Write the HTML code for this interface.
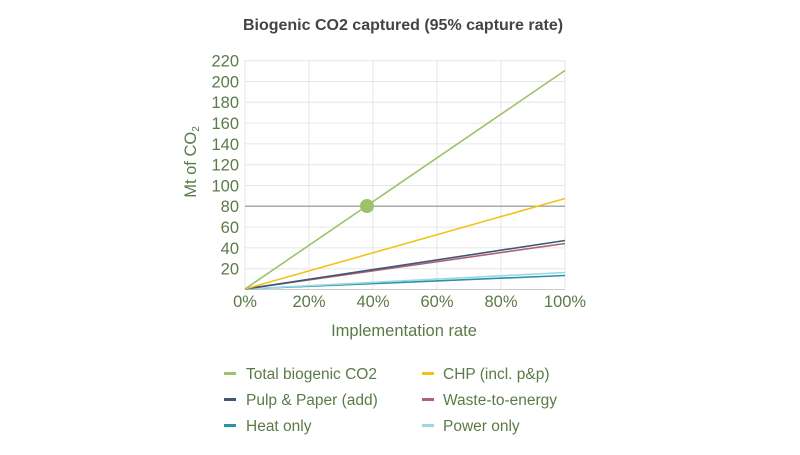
<!DOCTYPE html>
<html><head><style>
body{margin:0;background:#fff;width:800px;height:450px;overflow:hidden;font-family:"Liberation Sans",sans-serif;}
</style></head><body>
<svg width="800" height="450" xmlns="http://www.w3.org/2000/svg" font-family="Liberation Sans, sans-serif">
<text x="403" y="30" text-anchor="middle" font-size="16" font-weight="bold" fill="#444">Biogenic CO2 captured (95% capture rate)</text>
<g stroke="#e6e6e6" stroke-width="1">
<line x1="245" y1="60.7" x2="565" y2="60.7"/><line x1="245" y1="81.5" x2="565" y2="81.5"/><line x1="245" y1="102.3" x2="565" y2="102.3"/><line x1="245" y1="123.1" x2="565" y2="123.1"/><line x1="245" y1="143.9" x2="565" y2="143.9"/><line x1="245" y1="164.7" x2="565" y2="164.7"/><line x1="245" y1="185.5" x2="565" y2="185.5"/><line x1="245" y1="227.1" x2="565" y2="227.1"/><line x1="245" y1="247.9" x2="565" y2="247.9"/><line x1="245" y1="268.7" x2="565" y2="268.7"/>
<line x1="245" y1="60" x2="245" y2="289"/><line x1="309" y1="60" x2="309" y2="289"/><line x1="373" y1="60" x2="373" y2="289"/><line x1="437" y1="60" x2="437" y2="289"/><line x1="501" y1="60" x2="501" y2="289"/><line x1="565" y1="60" x2="565" y2="289"/>
</g>
<line x1="245" y1="289.5" x2="565" y2="289.5" stroke="#ccc"/>
<line x1="245" y1="206.3" x2="565" y2="206.3" stroke="#aaa" stroke-width="1.5"/>
<g stroke-width="1.6" fill="none">
<line x1="245" y1="289" x2="565" y2="275.5" stroke="#2a93a8"/>
<line x1="245" y1="289" x2="565" y2="272.5" stroke="#9ad8e4"/>
<line x1="245" y1="289" x2="565" y2="243.5" stroke="#b06078"/>
<line x1="245" y1="289" x2="565" y2="240.5" stroke="#3e5878"/>
<line x1="245" y1="289" x2="565" y2="198.5" stroke="#f2c21b"/>
<line x1="245" y1="289" x2="565" y2="70.5" stroke="#9cc26a"/>
</g>
<circle cx="367" cy="206" r="7" fill="#9cc26a"/>
<g font-size="16.5" fill="#5c7a48" text-anchor="end">
<text x="239" y="66.5">220</text><text x="239" y="87.5">200</text><text x="239" y="108">180</text><text x="239" y="129">160</text><text x="239" y="150">140</text><text x="239" y="170.5">120</text><text x="239" y="191.5">100</text><text x="239" y="212">80</text><text x="239" y="233">60</text><text x="239" y="254">40</text><text x="239" y="274.5">20</text>
</g>
<g font-size="16.5" fill="#5c7a48" text-anchor="middle">
<text x="245" y="307">0%</text><text x="309" y="307">20%</text><text x="373" y="307">40%</text><text x="437" y="307">60%</text><text x="501" y="307">80%</text><text x="565" y="307">100%</text>
<text x="404" y="336">Implementation rate</text>
</g>
<text transform="translate(196,162) rotate(-90)" font-size="16.5" fill="#5c7a48" text-anchor="middle">Mt of CO<tspan font-size="10" dy="3">2</tspan></text>
<g font-size="15.5" fill="#5c7a48">
<rect x="224" y="372" width="12" height="3" fill="#9cc26a"/><text x="246" y="379">Total biogenic CO2</text>
<rect x="224" y="398" width="12" height="3" fill="#3e5878"/><text x="246" y="405">Pulp &amp; Paper (add)</text>
<rect x="224" y="424" width="12" height="3" fill="#2a93a8"/><text x="246" y="431">Heat only</text>
<rect x="422" y="372" width="12" height="3" fill="#f2c21b"/><text x="443" y="379">CHP (incl. p&amp;p)</text>
<rect x="422" y="398" width="12" height="3" fill="#b06078"/><text x="443" y="405">Waste-to-energy</text>
<rect x="422" y="424" width="12" height="3" fill="#9ad8e4"/><text x="443" y="431">Power only</text>
</g>
</svg>
</body></html>
